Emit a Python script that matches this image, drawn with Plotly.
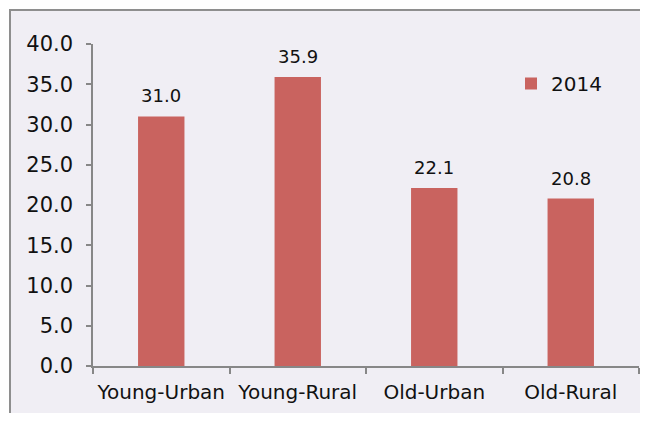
import plotly.graph_objects as go

categories = ["Young-Urban", "Young-Rural", "Old-Urban", "Old-Rural"]
values_2014 = [31.0, 35.9, 22.1, 20.8]
series_name = "2014"
y_ticks = [0, 5, 10, 15, 20, 25, 30, 35, 40]

BAR = "#C9635F"
BG = "#F0EEF4"
AX = "#878787"
FONT = "DejaVu Sans, Verdana, sans-serif"

# the page body has an 8px margin on every side; size the figure so the page is exactly 648x421
W, H = 632, 405
L, R, T, B = 85, 1, 36, 47
pw, ph = W - L - R, H - T - B

fig = go.Figure()
fig.add_trace(go.Bar(
    x=categories, y=values_2014, name=series_name,
    marker=dict(color=BAR, line=dict(width=0)),
    showlegend=True,
))

for c, v in zip(categories, values_2014):
    fig.add_annotation(x=c, y=v, text=f"{v:.1f}", showarrow=False,
                       yanchor="bottom", yshift=8,
                       font=dict(family=FONT, size=18, color="#111111"))

def px_x(p):
    return (p - L) / pw

def px_y(p):
    return (H - B - p) / ph

# outer chart-area border, starting near the top-left and running off the page
fig.add_shape(type="rect", xref="paper", yref="paper",
              x0=px_x(2), x1=px_x(W + 20), y0=px_y(H + 20), y1=px_y(2),
              fillcolor=BG, line=dict(color="#8E8E8E", width=2), layer="below")

fig.update_layout(
    width=W, height=H,
    margin=dict(l=L, r=R, t=T, b=B, pad=0, autoexpand=False),
    paper_bgcolor="white", plot_bgcolor="rgba(0,0,0,0)",
    bargap=0.66,
    font=dict(family=FONT, size=20, color="#111111"),
    legend=dict(x=px_x(503), y=px_y(56), xanchor="left", yanchor="top",
                bgcolor="rgba(0,0,0,0)", font=dict(size=20, family=FONT),
                itemwidth=30),
    xaxis=dict(type="category", showline=True, linecolor=AX, linewidth=1.5,
               ticks="outside", tickson="boundaries", ticklen=6, tickcolor=AX,
               tickwidth=1.5, showgrid=False, zeroline=False, tickangle=0,
               automargin=False, ticklabelstandoff=7,
               tickfont=dict(family=FONT, size=20, color="#111111")),
    yaxis=dict(range=[0, 40], tickvals=y_ticks, ticktext=[f"{t:.1f}" for t in y_ticks],
               showline=True, linecolor=AX, linewidth=1.5, automargin=False,
               ticks="outside", ticklen=5, tickcolor=AX, tickwidth=1.5,
               showgrid=False, zeroline=False, ticklabelstandoff=9,
               tickfont=dict(family=FONT, size=21, color="#111111")),
)

fig.write_html("out.html")
